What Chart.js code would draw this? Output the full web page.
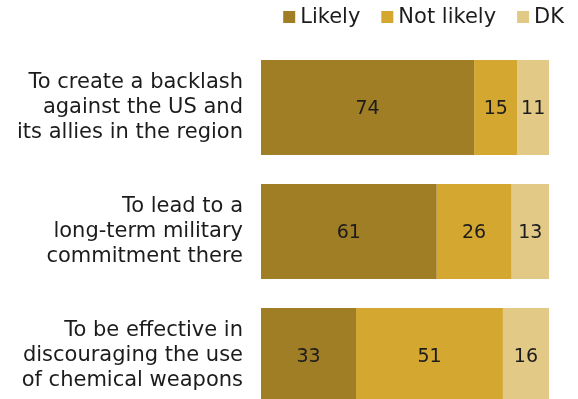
<!DOCTYPE html>
<html><head><meta charset="utf-8">
<script src="https://cdn.jsdelivr.net/npm/chart.js@4/dist/chart.umd.min.js"></script>
<style>html,body{margin:0;padding:0;overflow:hidden;background:#fff}#wrap{width:578px;height:418px;position:relative}</style>
</head><body><div id="wrap"><canvas id="c" width="578" height="418"></canvas></div>
<script>
const categories = [
  ["To create a backlash","against the US and","its allies in the region"],
  ["To lead to a","long-term military","commitment there"],
  ["To be effective in","discouraging the use","of chemical weapons"]
];
const likely = [74, 61, 33];
const notLikely = [15, 26, 51];
const dk = [11, 13, 16];
const seriesNames = ["Likely", "Not likely", "DK"];
const colors = ["#A07E25", "#D4A731", "#E2CA86"];

const FONT = "'DejaVu Sans', Verdana, sans-serif";
const TEXT = "#1c1c1c";

const valueLabels = {
  id: 'valueLabels',
  afterDatasetsDraw(chart) {
    const ctx = chart.ctx;
    ctx.save();
    ctx.font = "19px " + FONT;
    ctx.fillStyle = TEXT;
    ctx.textAlign = "center";
    ctx.textBaseline = "middle";
    chart.data.datasets.forEach((ds, i) => {
      chart.getDatasetMeta(i).data.forEach((bar, j) => {
        const p = bar.getProps(['x','y','base'], true);
        ctx.fillText(String(ds.data[j]), (p.x + p.base) / 2, p.y + 2);
      });
    });
    ctx.restore();
  }
};

const topLegend = {
  id: 'topLegend',
  afterDraw(chart) {
    const ctx = chart.ctx;
    ctx.save();
    ctx.font = "21px " + FONT;
    ctx.textBaseline = "middle";
    ctx.textAlign = "left";
    const box = 12, gapBoxText = 5, gapItems = 21, rightEdge = 564, cy = 17;
    const items = chart.data.datasets.map(d => ({label: d.label, color: d.backgroundColor, w: ctx.measureText(d.label).width}));
    let total = 0;
    items.forEach((it, k) => { total += box + gapBoxText + it.w + (k ? gapItems : 0); });
    let x = rightEdge - total;
    items.forEach(it => {
      ctx.fillStyle = it.color;
      ctx.fillRect(x, cy - box / 2, box, box);
      ctx.fillStyle = TEXT;
      ctx.fillText(it.label, x + box + gapBoxText, cy + 1);
      x += box + gapBoxText + it.w + gapItems;
    });
    ctx.restore();
  }
};

new Chart(document.getElementById('c'), {
  type: 'bar',
  data: {
    labels: categories,
    datasets: [
      {label: seriesNames[0], data: likely, backgroundColor: colors[0]},
      {label: seriesNames[1], data: notLikely, backgroundColor: colors[1]},
      {label: seriesNames[2], data: dk, backgroundColor: colors[2]}
    ]
  },
  options: {
    indexAxis: 'y',
    responsive: false,
    animation: false,
    layout: {padding: {left: 0, right: 29, top: 45.5, bottom: 0.5}},
    datasets: {bar: {barPercentage: 0.766, categoryPercentage: 1, borderWidth: 0}},
    plugins: {legend: {display: false}, tooltip: {enabled: false}},
    scales: {
      x: {stacked: true, min: 0, max: 100, display: false},
      y: {
        stacked: true,
        grid: {display: false, drawTicks: false},
        border: {display: false},
        ticks: {font: {size: 21, family: FONT, lineHeight: 1.2}, color: TEXT, padding: 18},
        afterFit(scale) { scale.width = 261; scale.paddingTop = 0; scale.paddingBottom = 0; }
      }
    }
  },
  plugins: [valueLabels, topLegend]
});
</script></body></html>
